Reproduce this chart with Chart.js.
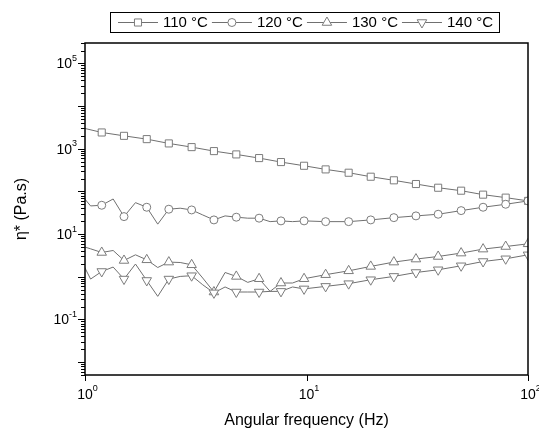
<!DOCTYPE html>
<html>
<head>
<meta charset="utf-8">
<script src="https://cdn.jsdelivr.net/npm/chart.js@4/dist/chart.umd.min.js"></script>
<style>
  html, body { margin: 0; padding: 0; background: #fff; }
  #wrap { width: 539px; height: 430px; }
</style>
</head>
<body>
<div id="wrap"><canvas id="etaChart" width="539" height="430"></canvas></div>
<script>
// frequencies (Hz); marked points are the even ones from index 2
const freq = [0.944, 1.06, 1.19, 1.34, 1.50, 1.69, 1.90, 2.13, 2.39, 2.69, 3.03, 3.40, 3.82, 4.29,
  4.82, 5.43, 6.11, 6.85, 7.67, 8.65, 9.75, 10.9, 12.2, 13.8, 15.5, 17.4, 19.5, 22.0, 24.8, 27.8,
  31.2, 35.0, 39.3, 44.3, 49.9, 55.9, 62.7, 70.5, 79.3, 89.1, 100];

const seriesNames = ['110 °C', '120 °C', '130 °C', '140 °C'];

// complex viscosity (Pa.s), null = no vertex there
const eta110 = [3200, null, 2405, null, 2005, null, 1679, null, 1332, null, 1091, null, 880, null,
  736, null, 604, null, 487, null, 399, null, 328, null, 274, null, 221, null, 182, null,
  149, null, 122, null, 104, null, 84, null, 71.5, null, 60];
const eta120 = [94, 45.7, 47.4, 66.5, 25.7, 54.6, 42.6, 17.1, 38.3, 40.4, 36.8, 28.1, 21.5, 26.7,
  24.9, 23.6, 23.6, 19.6, 20.4, 19.6, 20.4, null, 19.6, null, 19.6, null, 21.5, null, 24.3, null,
  26.7, null, 29.2, null, 35.5, null, 42.6, null, 50.0, null, 59.8];
const eta130 = [5.43, 4.52, 3.71, 4.13, 2.41, 3.27, 2.50, 1.65, 2.21, 2.16, 1.91, 0.935, 0.44, 1.26,
  1.02, 0.74, 0.90, 0.455, 0.715, 0.715, 0.90, null, 1.12, null, 1.38, null, 1.75, null, 2.21, null,
  2.60, null, 2.99, null, 3.59, null, 4.45, null, 5.12, null, 5.92];
const eta140 = [2.89, 0.885, 1.33, 1.69, 0.885, 1.99, 0.82, 0.348, 0.885, 1.02, 1.06, 0.65, 0.42, 0.577,
  0.44, 0.44, 0.44, 0.455, 0.455, 0.577, 0.52, null, 0.596, null, 0.69, null, 0.853, null, 1.02, null,
  1.26, null, 1.46, null, 1.81, null, 2.28, null, 2.64, null, 3.27];

// decade exponents that carry a label
const xTickExps = [0, 1, 2];
const yTickExps = [-1, 1, 3, 5];

const FONT = '"Liberation Sans", Arial, sans-serif';
const lineGray = '#707070';
const markGray = '#7c7c7c';

const markers = [
  { style: 'rect', radius: 5, rotation: 0 },
  { style: 'circle', radius: 4, rotation: 0 },
  { style: 'triangle', radius: 5.5, rotation: 0 },
  { style: 'triangle', radius: 5.5, rotation: 180 }
];

function makeDataset(i, values) {
  const mk = markers[i];
  return {
    label: seriesNames[i],
    data: freq.map((f, k) => ({ x: f, y: values[k] })),
    borderColor: lineGray,
    borderWidth: 1,
    pointStyle: mk.style,
    rotation: mk.rotation,
    pointRadius: c => (c.dataIndex >= 2 && c.dataIndex % 2 === 0) ? mk.radius : 0,
    pointHoverRadius: c => (c.dataIndex >= 2 && c.dataIndex % 2 === 0) ? mk.radius : 0,
    pointBackgroundColor: '#fff',
    pointBorderColor: markGray,
    pointBorderWidth: 1,
    spanGaps: true,
    tension: 0,
    order: 4 - i
  };
}

function drawPow(ctx, exp, x, y, align) {
  ctx.font = '14px ' + FONT;
  const bw = ctx.measureText('10').width;
  ctx.font = '9px ' + FONT;
  const sup = String(exp);
  const sw = ctx.measureText(sup).width;
  let bx = align === 'right' ? x - sw - bw : x - bw / 2;
  ctx.textAlign = 'left';
  ctx.textBaseline = 'middle';
  ctx.font = '14px ' + FONT;
  ctx.fillText('10', bx, y);
  ctx.font = '9px ' + FONT;
  ctx.fillText(sup, bx + bw, y - 6);
}

// frame, log ticks and power-of-ten labels
const axesPlugin = {
  id: 'axesPlugin',
  afterDraw(chart) {
    const ctx = chart.ctx, a = chart.chartArea;
    const xs = chart.scales.x, ys = chart.scales.y;
    ctx.save();
    ctx.strokeStyle = '#000';
    ctx.lineWidth = 1.5;
    ctx.strokeRect(a.left, a.top, a.right - a.left, a.bottom - a.top);

    ctx.lineWidth = 1;
    ctx.beginPath();
    for (let e = -3; e <= 5; e++) {
      for (let m = 1; m <= 9; m++) {
        const v = m * Math.pow(10, e);
        if (v < ys.min || v > ys.max) continue;
        const py = Math.round(ys.getPixelForValue(v)) + 0.5;
        ctx.moveTo(a.left, py);
        ctx.lineTo(a.left - (m === 1 ? 7 : 4), py);
      }
    }
    xTickExps.forEach(e => {
      const px = Math.round(xs.getPixelForValue(Math.pow(10, e))) + 0.5;
      ctx.moveTo(px, a.bottom);
      ctx.lineTo(px, a.bottom + 6);
    });
    ctx.stroke();

    ctx.fillStyle = '#000';
    yTickExps.forEach(e => drawPow(ctx, e, a.left - 8, ys.getPixelForValue(Math.pow(10, e)) + 1, 'right'));
    xTickExps.forEach(e => drawPow(ctx, e, xs.getPixelForValue(Math.pow(10, e)), a.bottom + 20, 'center'));
    ctx.restore();
  }
};

// boxed legend: line - marker - line, then name
const legendPlugin = {
  id: 'legendPlugin',
  afterDraw(chart) {
    const ctx = chart.ctx;
    const top = 12, bottom = 32, left = 110;
    const cy = (top + bottom) / 2;
    ctx.save();
    ctx.font = '15px ' + FONT;
    let x = left + 8;
    const items = [];
    seriesNames.forEach((name, i) => {
      const tw = ctx.measureText(name).width;
      items.push({ x, name, i });
      x += 45 + tw + 4;
    });
    const right = x - 4 + 6;
    ctx.strokeStyle = '#000';
    ctx.lineWidth = 1;
    ctx.strokeRect(left + 0.5, top + 0.5, right - left, bottom - top);
    items.forEach(it => {
      ctx.strokeStyle = lineGray;
      ctx.beginPath();
      ctx.moveTo(it.x, cy + 0.5);
      ctx.lineTo(it.x + 40, cy + 0.5);
      ctx.stroke();
      const mk = markers[it.i];
      ctx.fillStyle = '#fff';
      ctx.strokeStyle = markGray;
      Chart.helpers.drawPoint(ctx, { pointStyle: mk.style, rotation: mk.rotation, radius: mk.radius, borderWidth: 1 }, it.x + 20, cy + 0.5);
      ctx.fillStyle = '#000';
      ctx.textAlign = 'left';
      ctx.textBaseline = 'middle';
      ctx.fillText(it.name, it.x + 45, cy + 1);
    });
    ctx.restore();
  }
};

const ctx = document.getElementById('etaChart').getContext('2d');
const etaChart = new Chart(ctx, {
  type: 'line',
  data: {
    datasets: [
      makeDataset(0, eta110),
      makeDataset(1, eta120),
      makeDataset(2, eta130),
      makeDataset(3, eta140)
    ]
  },
  options: {
    responsive: false,
    devicePixelRatio: 1,
    animation: false,
    layout: { padding: { top: 43, right: 11, left: 0, bottom: 0 } },
    plugins: {
      legend: { display: false },
      tooltip: { enabled: false }
    },
    scales: {
      x: {
        type: 'logarithmic',
        min: 1,
        max: 100,
        grid: { display: false },
        border: { display: false },
        ticks: { display: false },
        title: {
          display: true,
          text: 'Angular frequency (Hz)',
          color: '#000',
          font: { size: 16, family: FONT },
          padding: { top: 0, bottom: 0 }
        },
        afterFit: s => { s.height = 55; }
      },
      y: {
        type: 'logarithmic',
        min: 0.005,
        max: 300000,
        grid: { display: false },
        border: { display: false },
        ticks: { display: false },
        title: {
          display: true,
          text: 'η* (Pa.s)',
          color: '#000',
          font: { size: 16, family: FONT },
          padding: { top: 12, bottom: 0 }
        },
        afterFit: s => { s.width = 85; }
      }
    }
  },
  plugins: [axesPlugin, legendPlugin]
});
</script>
</body>
</html>
